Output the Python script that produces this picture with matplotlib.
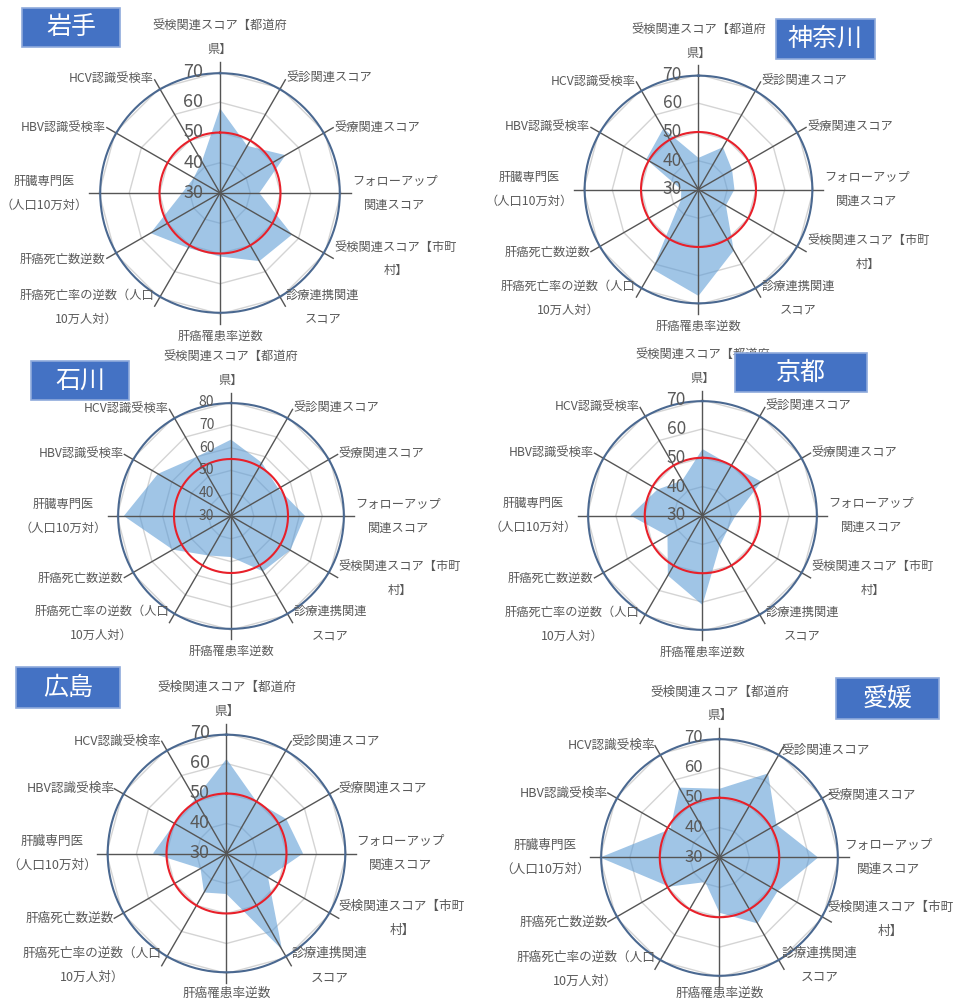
import numpy as np
import matplotlib.pyplot as plt
from matplotlib.patches import Rectangle

plt.rcParams['font.family'] = ['Noto Sans CJK JP', 'DejaVu Sans']

# 12 indicators, clockwise from the top
indicators = [
    "受検関連スコア【都道府\n県】",
    "受診関連スコア",
    "受療関連スコア",
    "フォローアップ\n関連スコア",
    "受検関連スコア【市町\n村】",
    "診療連携関連\nスコア",
    "肝癌罹患率逆数",
    "肝癌死亡率の逆数（人口\n10万人対）",
    "肝癌死亡数逆数",
    "肝臓専門医\n（人口10万対）",
    "HBV認識受検率",
    "HCV認識受検率",
]

prefectures = ["岩手", "神奈川", "石川", "京都", "広島", "愛媛"]

iwate = [58, 48, 55, 43, 57.5, 56, 51, 51, 56.5, 42.5, 40, 42]
kanagawa = [41, 47, 43.5, 42.5, 41, 54.5, 67, 62, 37, 36, 51, 54.5]
ishikawa = [63.5, 57, 54, 62.5, 60, 58, 48, 50, 59.5, 77, 67, 60]
kyoto = [53, 50, 53.5, 41.5, 40, 42, 61, 54, 44, 55, 48, 44]
hiroshima = [61.5, 50, 53, 55.5, 46, 67, 43.5, 45, 40, 54.5, 50, 51]
ehime = [53, 62.5, 52, 63, 52.5, 55.5, 48.5, 39.5, 49.5, 70, 49, 57]

scores = [iwate, kanagawa, ishikawa, kyoto, hiroshima, ehime]
axis_min = 30
axis_max = [70, 70, 80, 70, 70, 70]
reference = [50, 50, 55, 50, 50, 50]

W, H = 954, 1001
# centre (px), outer radius (px), title box (x, y, w, h from top-left, px), font sizes,
# radial positions of the labels (right side, left side, bottom)
layout = [
    dict(c=(220, 193), R=121, box=(22, 8, 98, 39), tick_fs=13, lab_fs=8.8, right=1.09, left=1.09, bottom=1.13),
    dict(c=(698.5, 189.5), R=115, box=(776, 19, 99, 40), tick_fs=12.5, lab_fs=8.8, right=1.09, left=1.09, bottom=1.13),
    dict(c=(231, 516), R=114, box=(31, 361, 98, 39), tick_fs=10, lab_fs=8.8, right=1.09, left=1.09, bottom=1.13),
    dict(c=(702.5, 515.5), R=115.5, box=(735, 353, 132, 39), tick_fs=12.5, lab_fs=8.8, right=1.09, left=1.09, bottom=1.13),
    dict(c=(226.5, 853.5), R=120, box=(16, 667, 104, 41), tick_fs=13, lab_fs=9.1, right=1.08, left=1.08, bottom=1.11),
    dict(c=(719.5, 857.5), R=119.5, box=(836, 678, 103, 41), tick_fs=12, lab_fs=9.1, right=1.04, left=1.08, bottom=1.08),
]

fig = plt.figure(figsize=(W / 100, H / 100), dpi=100)

theta = np.arange(12) * 2 * np.pi / 12
theta_closed = np.append(theta, theta[0])
ring = np.linspace(0, 2 * np.pi, 361)
grey = "#595959"

for name, vals, vmax, ref, lay in zip(prefectures, scores, axis_max, reference, layout):
    span = vmax - axis_min
    cx, cy = lay["c"]
    R = lay["R"]
    rad = R * 1.25
    ax = fig.add_axes([(cx - rad) / W, 1 - (cy + rad) / H, 2 * rad / W, 2 * rad / H],
                      projection="polar")
    ax.set_theta_zero_location("N")
    ax.set_theta_direction(-1)
    ax.set_ylim(axis_min, axis_min + 1.25 * span)
    ax.set_axis_off()

    # polygon gridlines
    for v in np.arange(axis_min + 10, vmax + 1, 10):
        ax.plot(theta_closed, [v] * 13, color="#D4D4D4", lw=1.0, zorder=1)

    ax.fill(theta_closed, list(vals) + [vals[0]], color="#5B9BD5", alpha=0.58, lw=0, zorder=2)

    # spokes
    for t in theta:
        ax.plot([t, t], [axis_min, axis_min + 1.08 * span], color="#555555", lw=1.0, zorder=3)

    ax.plot(ring, [ref] * len(ring), color="#E8202A", lw=1.5, zorder=4)
    ax.plot(ring, [vmax - 0.01 * span] * len(ring), color="#4A6890", lw=1.5, zorder=4)

    # value scale on the top spoke
    for v in np.arange(axis_min, vmax + 1, 10):
        ax.annotate(f"{v}", xy=(0, v), xytext=(-12, 0), textcoords="offset points",
                    ha="right", va="center", fontsize=lay["tick_fs"], color=grey, zorder=5)

    for i, (t, lab) in enumerate(zip(theta, indicators)):
        if i == 0:
            f, ha, va = 1.13, "center", "bottom"
        elif i == 6:
            f, ha, va = lay["bottom"], "center", "top"
        elif np.sin(t) > 0:
            f, ha, va = lay["right"], "left", "center"
        else:
            f, ha, va = lay["left"], "right", "center"
        ax.text(t, axis_min + f * span, lab, ha=ha, va=va, multialignment="center",
                fontsize=lay["lab_fs"], color=grey, linespacing=2.1, zorder=5)

    x, y, w, h = lay["box"]
    fig.add_artist(Rectangle((x / W, 1 - (y + h) / H), w / W, h / H, transform=fig.transFigure,
                             facecolor="#4472C4", edgecolor="#8FAADC", lw=1.2, zorder=10))
    fig.text((x + w / 2) / W, 1 - (y + h / 2) / H, name, color="white", fontsize=18,
             ha="center", va="center", zorder=11)

fig.savefig("out.png", dpi=100)
